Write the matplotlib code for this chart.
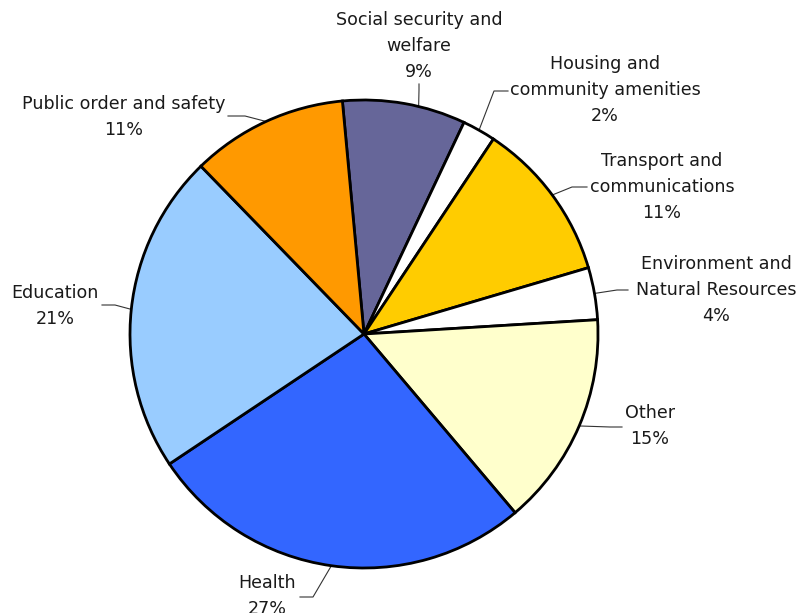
import numpy as np
import matplotlib.pyplot as plt

# Budget shares, clockwise from the top
categories = ['Social security and\nwelfare', 'Housing and\ncommunity amenities',
              'Transport and\ncommunications', 'Environment and\nNatural Resources',
              'Other', 'Health', 'Education', 'Public order and safety']
values = [8.5, 2.3, 11.1, 3.6, 14.8, 26.8, 22.1, 10.8]
pct_labels = ['9%', '2%', '11%', '4%', '15%', '27%', '21%', '11%']
colours = ['#666699', '#FFFFFF', '#FFCC00', '#FFFFFF', '#FFFFCC', '#3366FF', '#99CCFF', '#FF9900']

W, H = 799, 613
cx, cy, r = 364, H - 334, 234

# label block centre and leader elbow (pixel coords, y down)
label_pos = [(419, 46), (605, 90), (662, 187), (716, 290), (650, 426), (267, 596), (55, 306), (124, 117)]
elbow = [(419, 90), (494, 91), (572, 187), (617, 290), (610, 427), (313, 597), (115, 305), (245, 116)]
text_edge = [(419, 84), (508, 91), (587, 187), (628, 290), (622, 427), (300, 597), (102, 305), (228, 116)]
# where the leader meets the rim (None = middle of the slice)
anchor_deg = [76.5, None, None, None, None, None, None, None]

fig = plt.figure(figsize=(W / 100, H / 100), dpi=100)
ax = fig.add_axes([0, 0, 1, 1])

wedges, _ = ax.pie(values, colors=colours, startangle=95.3, counterclock=False,
                   center=(cx, cy), radius=r,
                   wedgeprops=dict(edgecolor='black', linewidth=2))

for i, w in enumerate(wedges):
    ang = anchor_deg[i] if anchor_deg[i] is not None else (w.theta1 + w.theta2) / 2
    ang = np.deg2rad(ang)
    px, py = cx + r * np.cos(ang), cy + r * np.sin(ang)
    (tx, ty), (ex, ey), (lx, ly) = text_edge[i], elbow[i], label_pos[i]
    ax.plot([tx, ex, px], [H - ty, H - ey, py], color='#333333', lw=0.8, zorder=0)
    ax.text(lx, H - ly, categories[i] + '\n' + pct_labels[i], ha='center', va='center',
            fontsize=12.6, linespacing=1.55, color='#1a1a1a', family='DejaVu Sans')

ax.set_xlim(0, W)
ax.set_ylim(0, H)
ax.set_aspect('equal')
ax.axis('off')
fig.savefig('out.png', dpi=100)
